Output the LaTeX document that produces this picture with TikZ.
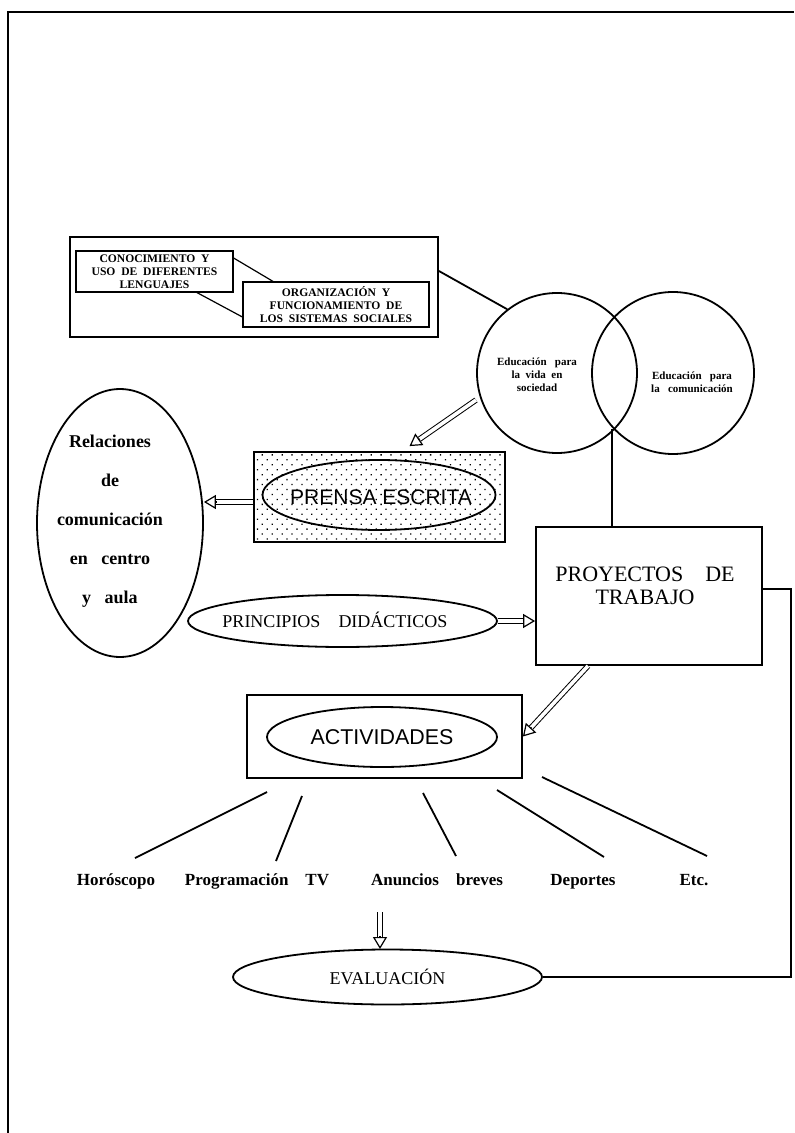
\documentclass[tikz,border=0pt]{standalone}
\usepackage{fontspec}
\setmainfont{Liberation Serif}
\newfontfamily\arialfam{Liberation Sans}
\usetikzlibrary{shapes.geometric,arrows.meta,calc,patterns.meta}

\tikzset{
	caja/.style={draw, rectangle, inner sep=0pt},
	ovalo/.style={draw, ellipse, inner sep=0pt},
	etiq/.style={anchor=base, font=\bfseries\fontsize{8.5}{10}\selectfont},
	mini/.style={font=\bfseries\fontsize{5.5}{6.4}\selectfont, align=center},
	hueca/.style={double, double distance=1.8pt, line width=0.5pt},
	punta/.style={line width=0.6pt, -{Triangle[length=6pt, width=7pt, fill=white]}},
}

\newcommand{\flecha}[2]{
	\draw[hueca] (#1) -- ($(#2)!6pt!(#1)$);
	\draw[punta] ($(#2)!6.3pt!(#1)$) -- (#2);
}

\begin{document}
\begin{tikzpicture}[x=0.5pt, y=-0.5pt, line width=0.9pt]
	\useasboundingbox (0,0) rectangle (794,1133);
	\draw[line width=1.1pt] (8,1133) -- (8,12) -- (794,12);

	\node[caja, minimum width=184pt, minimum height=50pt](marco) at (254,287){};
	\node[caja, mini, font=\bfseries\fontsize{5.8}{6.4}\selectfont, line width=0.6pt, minimum width=78.5pt, minimum height=20.5pt](conoc) at (154.5,271.5){CONOCIMIENTO\ \ Y\\ USO\ \ DE\ \ DIFERENTES\\ LENGUAJES};
	\node[caja, mini, font=\bfseries\fontsize{5.8}{6.4}\selectfont, line width=0.6pt, minimum width=93pt, minimum height=22.5pt](organ) at (336,304.5){ORGANIZACIÓN\ \ Y\\ FUNCIONAMIENTO\ \ DE\\ LOS\ \ SISTEMAS\ \ SOCIALES};

	\draw[line width=0.6pt] ([yshift=6.75pt]conoc.east) -- ([xshift=-31.5pt]organ.north);
	\draw[line width=0.6pt] ([xshift=21.25pt]conoc.south) -- ([yshift=-6.25pt]organ.west);

	\node[draw, circle, minimum size=80pt, inner sep=0pt](vida) at (557,373){};
	\node[draw, circle, minimum size=81pt, inner sep=0pt, right of=vida, node distance=58pt](comun){};
	\node[mini](vidatxt) at (537,375){Educación\ \ \ para\\ la\ \ vida\ \ en\\ sociedad};
	\node[mini](comuntxt) at (692,382){Educación\ \ \ para\\ la\ \ \ comunicación};

	\draw ([yshift=8pt]marco.east) -- (vida.128);

	\node[caja, pattern={Dots[distance=3.5pt, radius=0.45pt, angle=45]}, minimum width=125.5pt, minimum height=45pt](prensa) at (379.5,497){};
	\node[ovalo, minimum width=116.5pt, minimum height=35pt](prensaov) at (379,495){};
	\node[font=\arialfam\fontsize{10.5}{12}\selectfont](prensatxt) at (381,497){PRENSA ESCRITA};

	\node[ovalo, minimum width=83pt, minimum height=134pt](relac) at (120,523){};
	\node[align=center, font=\bfseries\fontsize{9}{19.5}\selectfont](relactxt) at (110,521){Relaciones\\ de\\ comunicación\\ en\ \ \ centro\\ y\ \ \ aula};

	\node[ovalo, minimum width=154.5pt, minimum height=26pt](princ) at (342.5,621){};
	\node[font=\fontsize{9}{11}\selectfont](princtxt) at (335,620){PRINCIPIOS\quad DIDÁCTICOS};

	\node[caja, minimum width=113pt, minimum height=69pt](proy) at (649,596){};
	\node[align=center, font=\fontsize{11}{11.5}\selectfont](proytxt) at (645,586){PROYECTOS\quad DE\\ TRABAJO};

	\coordinate (cruce) at (612,429);
	\draw (cruce) -- (cruce |- proy.north);

	\node[caja, minimum width=137.5pt, minimum height=41.5pt](actbox) at (384.5,736.5){};
	\node[ovalo, minimum width=115pt, minimum height=30pt, font=\arialfam\fontsize{10.7}{12}\selectfont](activ) at (382,737){ACTIVIDADES};

	\node[ovalo, minimum width=154.5pt, minimum height=27.5pt, font=\fontsize{9}{11}\selectfont](eval) at (387.5,977){EVALUACIÓN};

	\coordinate (v1) at (476,400);
	\coordinate (v2) at ([xshift=15pt, yshift=2.5pt]prensa.north);
	\flecha{v1}{v2}

	\coordinate (r1) at ([yshift=-2.5pt]prensa.west);
	\coordinate (r2) at (r1 -| relac.east);
	\flecha{r1}{r2}

	\coordinate (p1) at (princ.east);
	\coordinate (p2) at (p1 -| proy.west);
	\flecha{p1}{p2}

	\coordinate (y1) at ([xshift=-30.5pt]proy.south);
	\flecha{y1}{actbox.east}

	\coordinate (e1) at (380,912);
	\coordinate (e2) at (380,949);
	\flecha{e1}{e2}

	\draw ([yshift=3.5pt]proy.east) -- ++(28,0) |- (eval.east);

	\node[etiq](horos) at (116,885){Horóscopo};
	\node[etiq](progtv) at (257,885){Programación\quad TV};
	\node[etiq](anunc) at (437,885){Anuncios\quad breves};
	\node[etiq](deport) at (583,885){Deportes};
	\node[etiq](etc) at (694,885){Etc.};

	\coordinate (h1) at (267,792);
	\coordinate (h2) at (135,858);
	\coordinate (t1) at (302,796);
	\coordinate (t2) at (276,861);
	\coordinate (b1) at (423,793);
	\coordinate (b2) at (456,856);
	\coordinate (d1) at (497,790);
	\coordinate (d2) at (604,857);
	\coordinate (c1) at (542,777);
	\coordinate (c2) at (707,856);

	\draw (h1) -- (h2);
	\draw (t1) -- (t2);
	\draw (b1) -- (b2);
	\draw (d1) -- (d2);
	\draw (c1) -- (c2);
\end{tikzpicture}
\end{document}
